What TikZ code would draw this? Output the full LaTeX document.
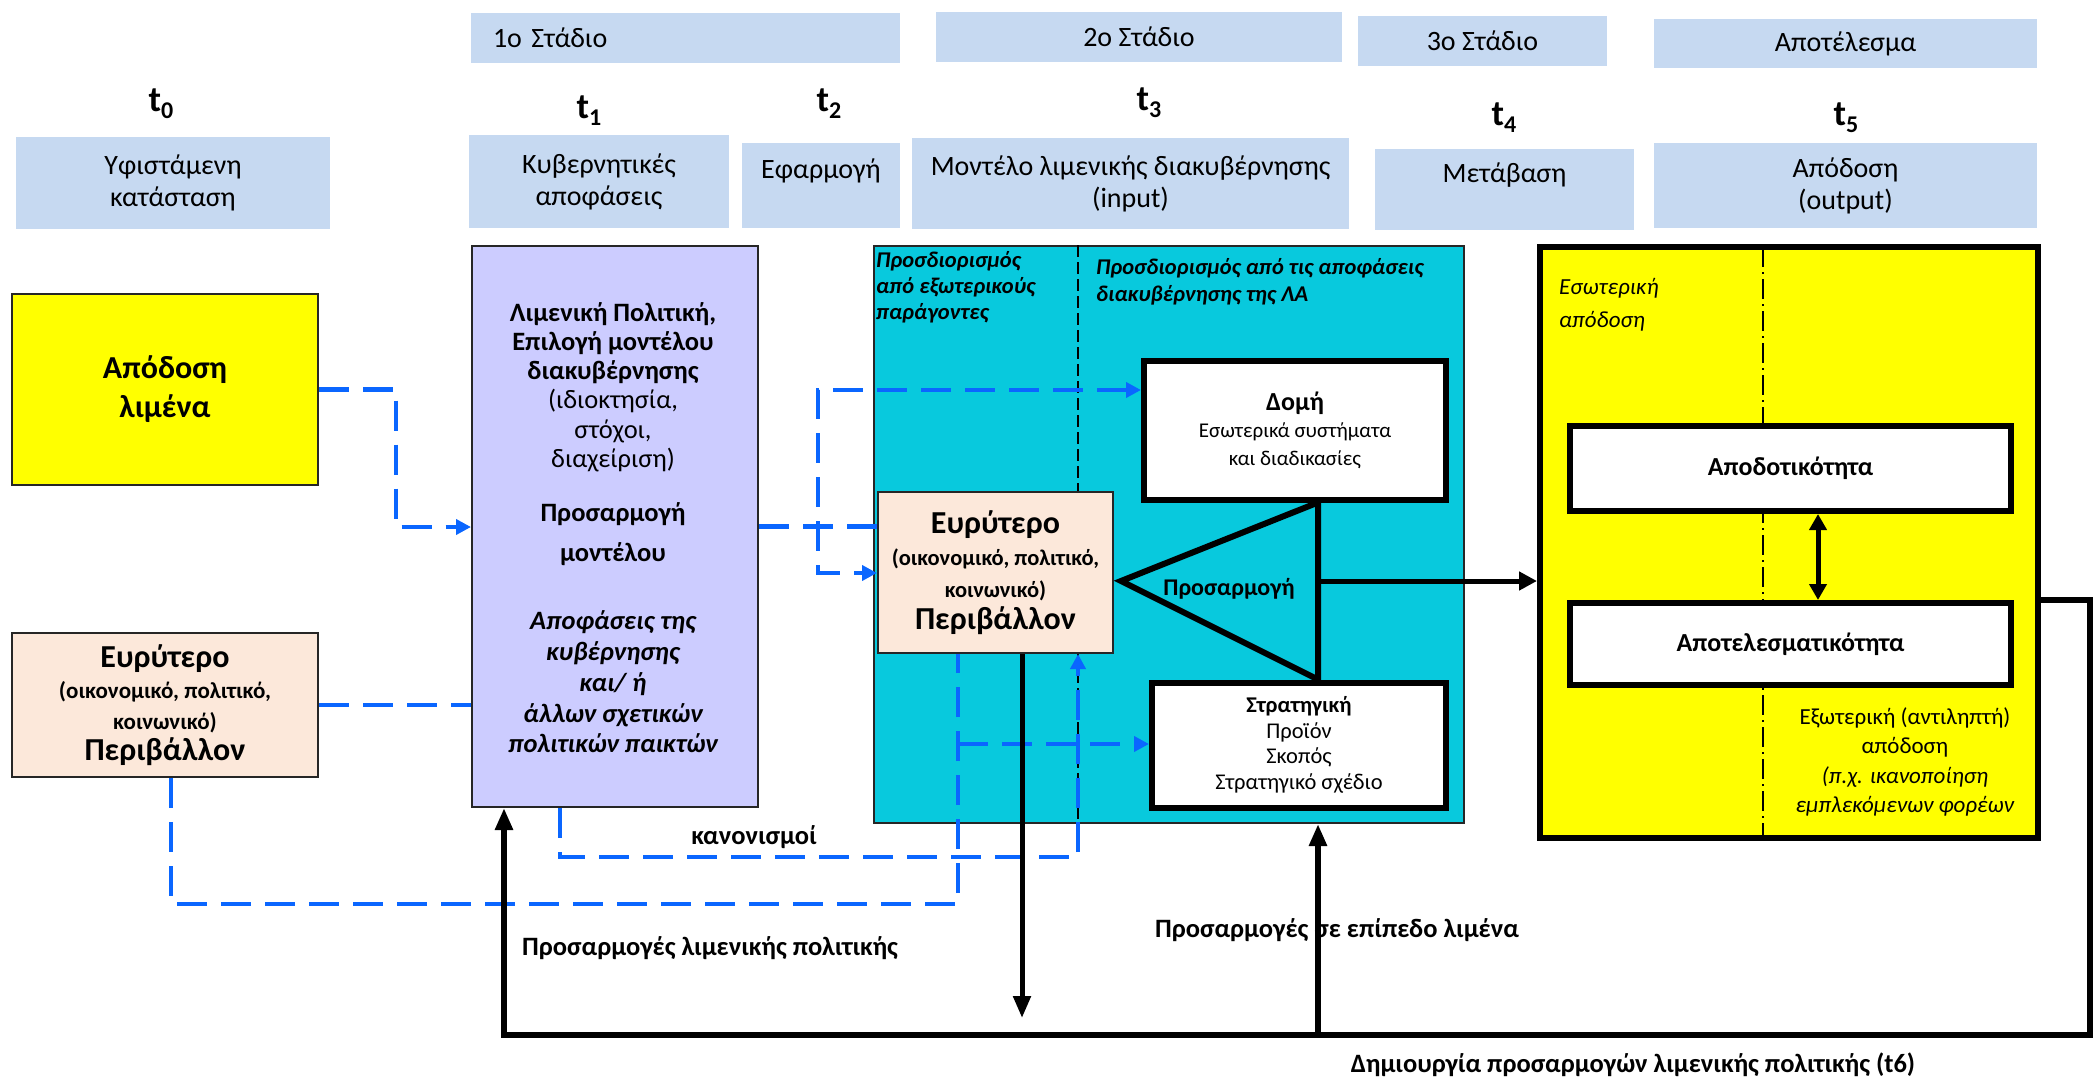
\documentclass[tikz,border=0pt]{standalone}
\usepackage{fontspec}
\setmainfont{Carlito}
\usetikzlibrary{arrows.meta}
\definecolor{hdr}{HTML}{C6D9F1}
\definecolor{ylw}{HTML}{FFFF00}
\definecolor{peach}{HTML}{FCE8DA}
\definecolor{lav}{HTML}{CCCCFF}
\definecolor{cyanbox}{HTML}{08C9DD}
\definecolor{bluedash}{HTML}{0A66FF}
\newcommand\myfs[2]{\fontsize{#1}{#2}\selectfont}
\newcommand\mytsub[1]{t\raisebox{-7pt}{\fontsize{24}{24}\selectfont #1}}
\begin{document}
\begin{tikzpicture}[x=1pt,y=-1pt,
  hdrbox/.style={fill=hdr, inner sep=0pt, align=center, font=\myfs{28}{32}},
  tlab/.style={font=\myfs{36}{40}\bfseries, inner sep=0pt},
  thinbox/.style={draw=black!85, line width=2pt, inner sep=0pt, align=center},
  thickbox/.style={draw=black, line width=6pt, fill=white, inner sep=0pt, align=center},
  txt/.style={inner sep=0pt, align=center},
  bdash/.style={draw=bluedash, line width=4.5pt, dash pattern=on 30pt off 14pt},
  barrow/.style={-{Triangle[length=15pt,width=15pt]}},
  kline/.style={draw=black, line width=5.5pt},
  karrow/.style={-{Triangle[length=22pt,width=17pt]}},
  lbl/.style={inner sep=0pt, font=\myfs{26.5}{30}\bfseries},
]
\useasboundingbox (0,0) rectangle (2100,1081);

% ---------- header row ----------
\node[hdrbox, minimum width=429pt, minimum height=50pt, text width=385pt, align=left] (s1) at (685.5,38) {1o Στάδιο};
\node[hdrbox, minimum width=406pt, minimum height=50pt] (s2) at (1139,37) {2o Στάδιο};
\node[hdrbox, minimum width=249pt, minimum height=50pt] (s3) at (1482.5,41) {3o Στάδιο};
\node[hdrbox, minimum width=383pt, minimum height=49pt] (s4) at (1845.5,43.5) {Αποτέλεσμα};

\node[tlab] (t0) at (161,104) {\mytsub{0}};
\node[tlab] (t1) at (589,111) {\mytsub{1}};
\node[tlab] (t2) at (829,104) {\mytsub{2}};
\node[tlab] (t3) at (1149,103) {\mytsub{3}};
\node[tlab] (t4) at (1504,118) {\mytsub{4}};
\node[tlab] (t5) at (1846,118) {\mytsub{5}};

\node[hdrbox, minimum width=314pt, minimum height=92pt] (h0) at (173,183) {Υφιστάμενη\\κατάσταση};
\node[hdrbox, minimum width=260pt, minimum height=93pt] (h1) at (599,181.5) {Κυβερνητικές\\αποφάσεις};
\node[hdrbox, minimum width=158pt, minimum height=85pt] (h2) at (821,185.5) {};
\node[txt, font=\myfs{28}{32}] (h2t) at (821,171) {Εφαρμογή};
\node[hdrbox, minimum width=437pt, minimum height=91pt] (h3) at (1130.5,183.5) {Μοντέλο λιμενικής διακυβέρνησης\\(input)};
\node[hdrbox, minimum width=259pt, minimum height=81pt] (h4) at (1504.5,189.5) {};
\node[txt, font=\myfs{28}{32}] (h4t) at (1504.5,175) {Μετάβαση};
\node[hdrbox, minimum width=383pt, minimum height=85pt] (h5) at (1845.5,185.5) {Απόδοση\\(output)};

% ---------- left boxes ----------
\node[thinbox, fill=ylw, minimum width=306pt, minimum height=191pt, font=\myfs{32}{39}\bfseries] (apod) at (165,389.5) {Απόδοση\\λιμένα};
\node[thinbox, fill=peach, minimum width=306pt, minimum height=144pt, font=\myfs{23}{31}\bfseries] (extenv) at (165,705)
  {{\myfs{32}{31}Ευρύτερο}\\(οικονομικό, πολιτικό,\\κοινωνικό)\\{\myfs{32}{31}Περιβάλλον}};

\node[thinbox, fill=lav, minimum width=286pt, minimum height=561pt] (lav) at (615,526.5) {};
\node[txt, font=\myfs{26.5}{29.2}] (lavA) at (613,387) {\textbf{Λιμενική Πολιτική,}\\\textbf{Επιλογή μοντέλου}\\\textbf{διακυβέρνησης}\\(ιδιοκτησία,\\στόχοι,\\διαχείριση)};
\node[txt, font=\myfs{26.5}{40}\bfseries] (lavB) at (613,534) {Προσαρμογή\\μοντέλου};
\node[txt, font=\myfs{26.5}{30.8}\bfseries\itshape] (lavC) at (613,682) {Αποφάσεις της\\κυβέρνησης\\και/ ή\\άλλων σχετικών\\πολιτικών παικτών};

% ---------- cyan model box ----------
\node[thinbox, fill=cyanbox, minimum width=590pt, minimum height=577pt] (cyan) at (1169,534.5) {};
\node[txt, anchor=west, align=left, font=\myfs{22.5}{26}\bfseries\itshape] (cyL) at (876,287) {Προσδιορισμός\\από εξωτερικούς\\παράγοντες};
\node[txt, anchor=west, align=left, font=\myfs{22.5}{27}\bfseries\itshape] (cyR) at (1096,282) {Προσδιορισμός από τις αποφάσεις\\διακυβέρνησης της ΛΑ};

\node[thickbox, minimum width=302pt, minimum height=139pt, font=\myfs{21}{27.5}] (domi) at (1295,430)
  {{\myfs{26}{27.5}\bfseries Δομή}\\Εσωτερικά συστήματα\\και διαδικασίες};
\node[thickbox, minimum width=294pt, minimum height=125pt, font=\myfs{22.5}{25.5}] (strat) at (1299,745)
  {{\myfs{22.5}{25.5}\bfseries Στρατηγική}\\Προϊόν\\Σκοπός\\Στρατηγικό σχέδιο};

\coordinate (p4a) at (560,857);
\coordinate (p4b) at (1078,857);
\coordinate (tA) at (1121,581);
\coordinate (tx) at (1318,0);

\node[thinbox, fill=peach, minimum width=235pt, minimum height=161pt, font=\myfs{22.5}{32}\bfseries] (innerenv) at (995.5,572.5)
  {{\myfs{32}{32}Ευρύτερο}\\(οικονομικό, πολιτικό,\\κοινωνικό)\\{\myfs{32}{32}Περιβάλλον}};

\draw[black, line width=2pt, dash pattern=on 12pt off 5pt] (p4b |- cyan.north) -- (p4b |- innerenv.north);
\draw[black, line width=2pt, dash pattern=on 12pt off 5pt] (p4b |- innerenv.south) -- (p4b |- cyan.south);

\draw[kline, line width=6pt] (tx |- domi.south) -- (tA) -- (tx |- strat.north) -- cycle;
\node[txt, font=\myfs{24}{26}\bfseries] (prosl) at (1229,589) {Προσαρμογή};

% ---------- right yellow box ----------
\node[draw=black, line width=6pt, fill=ylw, minimum width=498pt, minimum height=591pt, inner sep=0pt] (yright) at (1789,542.5) {};
\draw[black, line width=1.8pt, dash pattern=on 20pt off 5pt on 2pt off 5pt] (1763,247) -- (1763,838);
\node[thickbox, minimum width=441pt, minimum height=85pt, font=\myfs{26}{28}\bfseries] (eff) at (1790.5,468.5) {Αποδοτικότητα};
\node[thickbox, minimum width=441pt, minimum height=82pt, font=\myfs{26}{28}\bfseries] (effc) at (1790.5,644) {Αποτελεσματικότητα};
\node[txt, anchor=west, align=left, font=\myfs{23}{33}\itshape] (intp) at (1559,305) {Εσωτερική\\απόδοση};
\node[txt, font=\myfs{23}{29.5}] (extp) at (1905,762) {Εξωτερική (αντιληπτή)\\απόδοση\\\textit{(π.χ. ικανοποίηση}\\\textit{εμπλεκόμενων φορέων}};
\coordinate (dbl) at (1818,0);
\draw[line width=5pt, {Triangle[length=16pt,width=17pt]}-{Triangle[length=16pt,width=17pt]}] (dbl |- eff.south) -- (dbl |- effc.north);

\draw[line width=5pt, -{Triangle[length=18pt,width=18pt]}] (tx |- tA) -- (tA -| yright.west);

% ---------- blue dashed connectors ----------
\coordinate (p1b) at (396,527);
\draw[bdash, barrow] (apod.east) -- (apod.east -| p1b) -- (p1b) -- (p1b -| lav.west);
\draw[bdash] (extenv.east) -- (extenv.east -| lav.west);

\coordinate (p3a) at (171,904);
\coordinate (p3b) at (958,904);
\coordinate (p3c) at (958,744);
\draw[bdash] (extenv.south -| p3a) -- (p3a) -- (p3b) -- (p3b |- innerenv.south);
\draw[bdash, barrow] (p3c) -- (p3c -| strat.west);

\draw[bdash, barrow] (lav.south -| p4a) -- (p4a) -- (p4b) -- (p4b |- innerenv.south);

\coordinate (p5a) at (818,390);
\coordinate (p5b) at (818,573);
\draw[bdash] (lav.east) -- (lav.east -| innerenv.west);
\draw[bdash, {Triangle[length=15pt,width=15pt]}-{Triangle[length=15pt,width=15pt]}] (p5a -| domi.west) -- (p5a) -- (p5b) -- (p5b -| innerenv.west);

% ---------- labels ----------
\node[lbl] (kan) at (754,837) {κανονισμοί};
\node[lbl, anchor=west] (plab) at (522,948) {Προσαρμογές λιμενικής πολιτικής};
\node[lbl] (llab) at (1337,930) {Προσαρμογές σε επίπεδο λιμένα};
\node[lbl] (dlab) at (1633,1065) {Δημιουργία προσαρμογών λιμενικής πολιτικής (t6)};

% ---------- black feedback lines ----------
\coordinate (fbR) at (2090,600);
\coordinate (fbB) at (2090,1035);
\coordinate (fbL) at (504,1035);
\coordinate (fbM) at (1318,1035);
\coordinate (dn) at (1022,1018);
\draw[kline, karrow] (yright.east |- fbR) -- (fbR) -- (fbB) -- (fbL) -- (fbL |- lav.south);
\draw[kline, karrow] (fbM) -- (fbM |- cyan.south);
\draw[kline, line width=5pt, karrow] (dn |- innerenv.south) -- (dn);
\end{tikzpicture}
\end{document}
